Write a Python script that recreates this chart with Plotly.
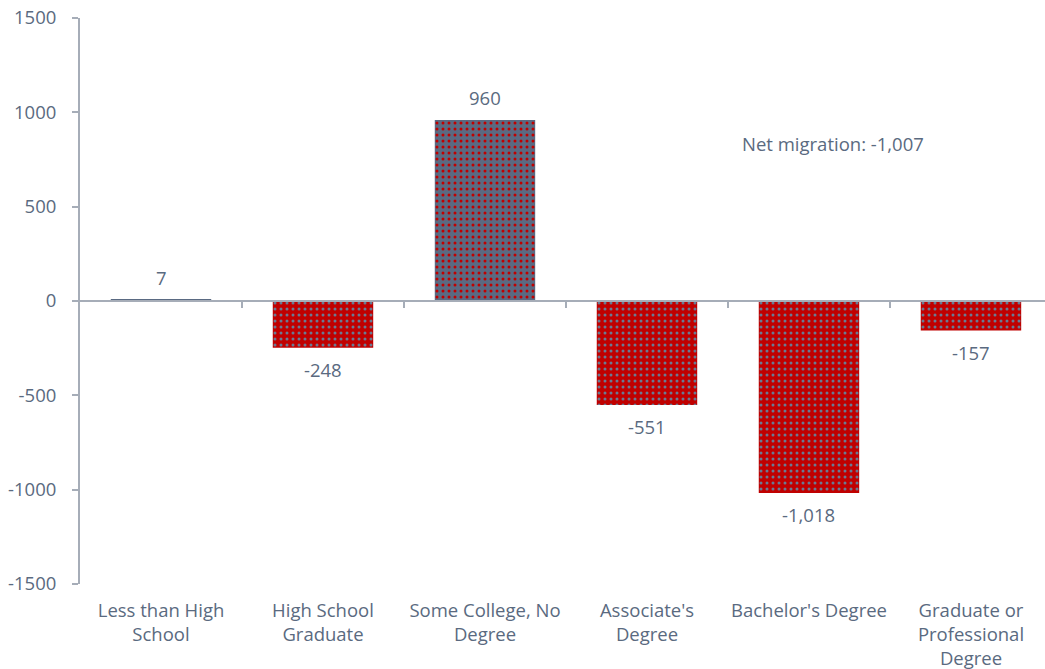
import plotly.graph_objects as go

categories = ["Less than High<br>School", "High School<br>Graduate", "Some College, No<br>Degree",
              "Associate's<br>Degree", "Bachelor's Degree", "Graduate or<br>Professional<br>Degree"]
values = [7, -248, 960, -551, -1018, -157]
y_ticks = [-1500, -1000, -500, 0, 500, 1000, 1500]
y_tick_labels = ["-1500", "-1000", "-500", "0", "500", "1000", "1500"]

GRAY = "#5a6a82"
RED = "#c00000"
DOT_ON_RED = "#6a7a92"
TXT = "#5a6a80"
AXIS = "#a6adb8"
FONT = "Open Sans"
FS = 18.5

x_idx = list(range(len(categories)))
labels = [f"{v:,}" for v in values]
pos_x = [x for x, v in zip(x_idx, values) if v > 0]
pos_y = [v for v in values if v > 0]
neg_x = [x for x, v in zip(x_idx, values) if v <= 0]
neg_y = [v for v in values if v <= 0]

fig = go.Figure()
fig.add_trace(go.Bar(
    x=pos_x, y=pos_y, width=0.62,
    marker=dict(color=GRAY, line=dict(width=0),
                pattern=dict(shape=".", bgcolor=GRAY, fgcolor=RED, fgopacity=1, size=6,
                             solidity=0.2, fillmode="replace")),
    hoverinfo="skip", showlegend=False,
))
fig.add_trace(go.Bar(
    x=neg_x, y=neg_y, width=0.62,
    marker=dict(color=RED, line=dict(width=0),
                pattern=dict(shape=".", bgcolor=RED, fgcolor=DOT_ON_RED, fgopacity=1, size=6,
                             solidity=0.2, fillmode="replace")),
    hoverinfo="skip", showlegend=False,
))
# invisible trace for the zero-line axis
fig.add_trace(go.Scatter(x=x_idx, y=[0]*len(x_idx), xaxis="x2", mode="markers",
                         marker=dict(opacity=0), hoverinfo="skip", showlegend=False))

# value labels
for xi, v, lab in zip(x_idx, values, labels):
    fig.add_annotation(x=xi, y=v, xref="x", yref="y", text=lab, showarrow=False,
                       yanchor="bottom" if v >= 0 else "top",
                       yshift=8 if v >= 0 else -7,
                       font=dict(family=FONT, size=FS, color=TXT))

net = sum(values)
fig.add_annotation(text=f"Net migration: {net:,}", xref="paper", yref="y",
                   x=0.78, y=837, showarrow=False, xanchor="center",
                   font=dict(family=FONT, size=FS, color=TXT))

xr = [-0.5, 5.457]
fig.update_layout(
    width=1045, height=669,
    margin=dict(l=80, r=0, t=18, b=85, autoexpand=False),
    paper_bgcolor="white", plot_bgcolor="white",
    font=dict(family=FONT, size=FS, color=TXT),
    barmode="overlay",
    xaxis=dict(range=xr, tickmode="array", tickvals=x_idx, ticktext=categories,
               showline=False, showgrid=False, zeroline=False, ticks="", automargin=False,
               ticklabelstandoff=13, ticklabeloverflow="allow",
               tickfont=dict(family=FONT, size=FS, color=TXT)),
    xaxis2=dict(range=xr, overlaying="x", anchor="free", position=0.5, side="bottom",
                showline=True, linecolor=AXIS, linewidth=2, showgrid=False, zeroline=False,
                tickmode="array", tickvals=[i + 0.5 for i in x_idx[:-1]],
                ticktext=[""] * (len(x_idx) - 1), ticks="outside", ticklen=6,
                tickcolor=AXIS, tickwidth=1.5, automargin=False),
    yaxis=dict(range=[-1500, 1500], tickmode="array", tickvals=y_ticks, ticktext=y_tick_labels,
               showline=True, linecolor=AXIS, linewidth=2, ticks="outside", ticklen=6,
               tickcolor=AXIS, tickwidth=1.5, showgrid=False, zeroline=False, automargin=False,
               ticklabelstandoff=12, ticklabeloverflow="allow",
               tickfont=dict(family=FONT, size=FS, color=TXT)),
)

fig.write_html("out.html", config={"displayModeBar": False},
               post_script="document.body.style.margin='0';")
